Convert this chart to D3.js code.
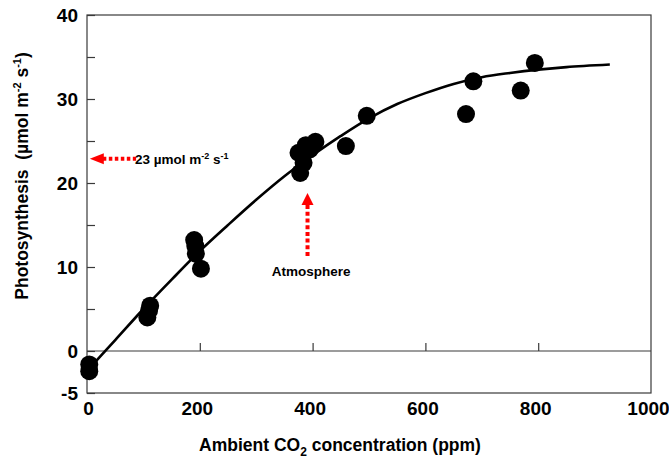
<!DOCTYPE html>
<html>
<head>
<meta charset="utf-8">
<script src="https://cdn.jsdelivr.net/npm/d3@7"></script>
<style>
  html, body { margin: 0; padding: 0; background: #fff; }
  svg { display: block; font-family: "Liberation Sans", Arial, sans-serif; }
</style>
</head>
<body>
<div id="chart"></div>
<script>
// ---- Data ----
const co2Obs = [4, 4, 112, 110, 107, 190, 192, 193, 202, 378, 384, 375, 383, 388, 395, 405, 459, 496, 672, 685, 769, 794];
const photoObs = [-1.6, -2.4, 5.4, 4.8, 4.0, 13.2, 12.5, 11.6, 9.8, 21.2, 22.4, 23.6, 23.4, 24.5, 24.0, 24.9, 24.4, 28.0, 28.2, 32.1, 31.0, 34.3];

// fitted curve
const fitCo2 = [5, 50, 100, 150, 200, 250, 300, 350, 400, 450, 500, 550, 600, 650, 700, 750, 800, 850, 927];
const fitPhoto = [-2.0, 1.3, 5.0, 8.5, 11.9, 15.0, 18.0, 20.8, 23.3, 25.6, 27.7, 29.4, 30.7, 31.8, 32.6, 33.1, 33.5, 33.8, 34.1];

const xTicks = [0, 200, 400, 600, 800, 1000];
const xInnerTicks = [200, 400, 600, 800];
const yTicks = [-5, 0, 5, 10, 15, 20, 25, 30, 35, 40];
const yLabelled = [-5, 0, 10, 20, 30, 40];

const atmosphereCo2 = 391;      // ppm marked by vertical arrow
const atmospherePhoto = 22.9;   // µmol m-2 s-1 marked by horizontal arrow

// ---- Layout ----
(function () {
const W = 669, H = 459;
const mLeft = 87, mRight = 651, mTop = 15, mBottom = 393;

const svg = d3.select("#chart").append("svg")
  .attr("width", W).attr("height", H);

const x = d3.scaleLinear().domain([0, 1000]).range([mLeft, mRight]);
const y = d3.scaleLinear().domain([-5, 40]).range([mBottom, mTop]);

const axisColor = "#3a3a3a";

// frame
svg.append("rect")
  .attr("x", mLeft).attr("y", mTop)
  .attr("width", mRight - mLeft).attr("height", mBottom - mTop)
  .attr("fill", "none").attr("stroke", axisColor).attr("stroke-width", 1.2);

// zero line
svg.append("line")
  .attr("x1", mLeft).attr("x2", mRight)
  .attr("y1", y(0)).attr("y2", y(0))
  .attr("stroke", axisColor).attr("stroke-width", 1.2);

// Y axis (inward ticks)
const yAxis = svg.append("g")
  .attr("transform", `translate(${mLeft},0)`)
  .call(d3.axisLeft(y).tickValues(yTicks).tickSize(-8).tickPadding(9)
    .tickFormat(d => yLabelled.includes(d) ? String(d) : ""));
yAxis.select(".domain").remove();
yAxis.selectAll("line").attr("stroke", axisColor).attr("stroke-width", 1.2);
yAxis.selectAll("text")
  .attr("fill", "#000")
  .style("font-size", "19px").style("font-weight", "bold")
  .style("font-family", "'Liberation Sans', Arial, sans-serif");

// X axis labels at bottom of frame
const xAxis = svg.append("g")
  .attr("transform", `translate(0,${mBottom})`)
  .call(d3.axisBottom(x).tickValues(xTicks).tickSize(0).tickFormat(d => String(d)));
xAxis.select(".domain").remove();
xAxis.selectAll("text")
  .attr("y", 22).attr("dy", 0)
  .attr("dx", d => d === 0 ? 1 : -3)
  .attr("fill", "#000")
  .style("font-size", "19px").style("font-weight", "bold")
  .style("font-family", "'Liberation Sans', Arial, sans-serif");

// X ticks on zero line pointing upward
const xTickAxis = svg.append("g")
  .attr("transform", `translate(0,${y(0)})`)
  .call(d3.axisTop(x).tickValues(xInnerTicks).tickSize(8).tickFormat(""));
xTickAxis.select(".domain").remove();
xTickAxis.selectAll("line").attr("stroke", axisColor).attr("stroke-width", 1.2);

// fitted curve
const fitData = fitCo2.map((c, i) => [c, fitPhoto[i]]);
svg.append("path")
  .datum(fitData)
  .attr("fill", "none")
  .attr("stroke", "#000")
  .attr("stroke-width", 2.6)
  .attr("d", d3.line().x(d => x(d[0])).y(d => y(d[1])).curve(d3.curveCatmullRom.alpha(0.5)));

// observations
const obs = co2Obs.map((c, i) => [c, photoObs[i]]);
svg.append("g").selectAll("circle")
  .data(obs).join("circle")
  .attr("cx", d => x(d[0])).attr("cy", d => y(d[1]))
  .attr("r", 9).attr("fill", "#000");

// ---- Annotations ----
const red = "#ff0000";
// horizontal arrow (23 µmol)
const hy = y(atmospherePhoto);
const hTip = x(5);
svg.append("line")
  .attr("x1", hTip + 13).attr("x2", x(87))
  .attr("y1", hy).attr("y2", hy)
  .attr("stroke", red).attr("stroke-width", 4).attr("stroke-dasharray", "3.5,2.5");
svg.append("path")
  .attr("d", `M${hTip},${hy} L${hTip + 14},${hy - 5.5} L${hTip + 14},${hy + 5.5} Z`)
  .attr("fill", red);

const t23 = svg.append("text")
  .attr("x", x(85)).attr("y", hy + 5.5)
  .attr("fill", "#000").style("font-size", "13.5px").style("font-weight", "bold");
t23.append("tspan").text("23 µmol m");
t23.append("tspan").attr("dy", -5).style("font-size", "9px").text("-2");
t23.append("tspan").attr("dy", 5).text(" s");
t23.append("tspan").attr("dy", -5).style("font-size", "9px").text("-1");

// vertical arrow (Atmosphere)
const vx = x(atmosphereCo2);
const vTip = y(18.8);
svg.append("line")
  .attr("x1", vx).attr("x2", vx)
  .attr("y1", vTip + 12).attr("y2", y(11.1))
  .attr("stroke", red).attr("stroke-width", 4).attr("stroke-dasharray", "4,2.7");
svg.append("path")
  .attr("d", `M${vx},${vTip} L${vx - 6},${vTip + 12} L${vx + 6},${vTip + 12} Z`)
  .attr("fill", red);

svg.append("text")
  .attr("x", vx + 3.5).attr("y", 276)
  .attr("text-anchor", "middle")
  .attr("fill", "#000").style("font-size", "13.5px").style("font-weight", "bold")
  .text("Atmosphere");

// ---- Axis titles ----
const xt = svg.append("text")
  .attr("x", 340).attr("y", 451)
  .attr("text-anchor", "middle")
  .attr("fill", "#000").style("font-size", "17.5px").style("font-weight", "bold");
xt.append("tspan").text("Ambient CO");
xt.append("tspan").attr("dy", 5).style("font-size", "12px").text("2");
xt.append("tspan").attr("dy", -5).text(" concentration (ppm)");

const yt = svg.append("text")
  .attr("transform", "rotate(-90)")
  .attr("x", -176).attr("y", 27.5)
  .attr("text-anchor", "middle")
  .attr("fill", "#000").style("font-size", "17.5px").style("font-weight", "bold");
yt.append("tspan").text("Photosynthesis\u00a0\u00a0(µmol m");
yt.append("tspan").attr("dy", -7).style("font-size", "11px").text("-2");
yt.append("tspan").attr("dy", 7).text(" s");
yt.append("tspan").attr("dy", -7).style("font-size", "11px").text("-1");
yt.append("tspan").attr("dy", 7).text(")");
})();
</script>
</body>
</html>
